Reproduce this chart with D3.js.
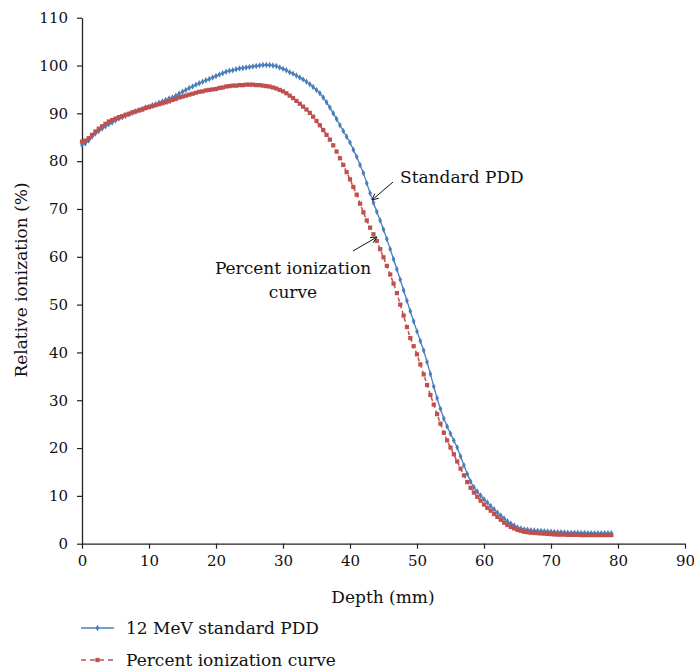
<!DOCTYPE html>
<html>
<head>
<meta charset="utf-8">
<script src="https://cdn.jsdelivr.net/npm/d3@7.9.0/dist/d3.min.js"></script>
<style>
  body { margin: 0; background: #fff; }
  svg { display: block; font-family: "DejaVu Serif", serif; }
</style>
</head>
<body>
<svg id="chart" width="694" height="671"></svg>
<script>
const depth = [
  0, 0.5, 1, 1.5, 2, 2.5, 3, 3.5, 4, 4.5, 5, 5.5, 6, 6.5, 7, 7.5, 8, 8.5, 9, 9.5,
  10, 10.5, 11, 11.5, 12, 12.5, 13, 13.5, 14, 14.5, 15, 15.5, 16, 16.5, 17, 17.5, 18, 18.5, 19, 19.5,
  20, 20.5, 21, 21.5, 22, 22.5, 23, 23.5, 24, 24.5, 25, 25.5, 26, 26.5, 27, 27.5, 28, 28.5, 29, 29.5,
  30, 30.5, 31, 31.5, 32, 32.5, 33, 33.5, 34, 34.5, 35, 35.5, 36, 36.5, 37, 37.5, 38, 38.5, 39, 39.5,
  40, 40.5, 41, 41.5, 42, 42.5, 43, 43.5, 44, 44.5, 45, 45.5, 46, 46.5, 47, 47.5, 48, 48.5, 49, 49.5,
  50, 50.5, 51, 51.5, 52, 52.5, 53, 53.5, 54, 54.5, 55, 55.5, 56, 56.5, 57, 57.5, 58, 58.5, 59, 59.5,
  60, 60.5, 61, 61.5, 62, 62.5, 63, 63.5, 64, 64.5, 65, 65.5, 66, 66.5, 67, 67.5, 68, 68.5, 69, 69.5,
  70, 70.5, 71, 71.5, 72, 72.5, 73, 73.5, 74, 74.5, 75, 75.5, 76, 76.5, 77, 77.5, 78, 78.5, 79
];

// 12 MeV standard PDD (%)
const standardPDD = [
  83.4, 83.7, 84.3, 85.1, 85.8, 86.3, 86.8, 87.3, 87.7, 88.1, 88.5, 88.9, 89.2, 89.5, 89.8, 90.1, 90.4, 90.7, 90.9, 91.2,
  91.4, 91.7, 91.9, 92.2, 92.5, 92.8, 93.1, 93.3, 93.7, 94.1, 94.5, 94.9, 95.3, 95.6, 96.0, 96.3, 96.6, 96.9, 97.2, 97.5,
  97.8, 98.1, 98.4, 98.7, 98.9, 99.0, 99.2, 99.4, 99.5, 99.6, 99.7, 99.8, 99.9, 100.0, 100.1, 100.1, 100.1, 100.0, 99.9, 99.6,
  99.3, 99.0, 98.6, 98.3, 97.9, 97.5, 97.1, 96.6, 96.1, 95.5, 94.9, 94.2, 93.3, 92.3, 91.2, 90.0, 88.8, 87.5, 86.3, 85.1,
  83.9, 82.4, 80.9, 79.2, 77.5, 75.4, 73.3, 71.3, 69.4, 67.6, 65.7, 63.7, 61.6, 59.5, 57.4, 55.2, 53.0, 50.8, 48.6, 46.5,
  44.4, 42.4, 40.4, 38.0, 35.5, 32.9, 30.4, 28.2, 26.2, 24.5, 23.0, 21.6, 20.1, 18.3, 16.4, 14.6, 13.0, 11.8, 10.9, 10.1,
  9.3, 8.6, 7.9, 7.2, 6.5, 5.9, 5.3, 4.7, 4.2, 3.8, 3.4, 3.2, 3.0, 2.9, 2.8, 2.75, 2.7, 2.65, 2.6, 2.55,
  2.5, 2.45, 2.4, 2.4, 2.35, 2.3, 2.3, 2.3, 2.3, 2.25, 2.25, 2.2, 2.2, 2.2, 2.2, 2.2, 2.2, 2.2, 2.2
];

// Percent ionization curve (%)
const percentIonization = [
  84.1, 84.3, 84.8, 85.5, 86.2, 86.8, 87.3, 87.8, 88.3, 88.6, 88.9, 89.2, 89.4, 89.7, 89.9, 90.2, 90.4, 90.6, 90.8, 91.1,
  91.3, 91.5, 91.7, 91.9, 92.1, 92.3, 92.5, 92.8, 93.0, 93.3, 93.5, 93.7, 93.9, 94.1, 94.3, 94.5, 94.6, 94.8, 94.9, 95.0,
  95.1, 95.3, 95.4, 95.6, 95.7, 95.8, 95.8, 95.9, 95.9, 96.0, 96.0, 96.0, 95.9, 95.9, 95.8, 95.7, 95.6, 95.4, 95.2, 94.9,
  94.6, 94.2, 93.7, 93.2, 92.6, 92.0, 91.4, 90.8, 90.1, 89.3, 88.4, 87.5, 86.5, 85.5, 84.5, 83.3, 82.0, 80.6, 79.2, 77.7,
  76.2, 74.6, 73.0, 71.1, 69.3, 67.6, 66.1, 64.7, 63.3, 61.6, 59.9, 58.1, 56.3, 54.4, 52.4, 50.0, 47.7, 45.3, 43.0, 41.3,
  39.6, 37.5, 35.4, 33.2, 31.1, 29.1, 27.1, 25.1, 23.2, 21.6, 20.1, 18.7, 17.2, 15.7, 14.3, 12.9, 11.7, 10.7, 9.8, 9.0,
  8.2, 7.5, 6.9, 6.2, 5.6, 5.0, 4.4, 3.9, 3.5, 3.2, 2.9, 2.7, 2.5, 2.4, 2.3, 2.25, 2.2, 2.15, 2.1, 2.05,
  2.0, 1.95, 1.9, 1.9, 1.9, 1.85, 1.85, 1.85, 1.85, 1.8, 1.8, 1.8, 1.8, 1.8, 1.8, 1.8, 1.8, 1.8, 1.8
];

const xTicks = [0, 10, 20, 30, 40, 50, 60, 70, 80, 90];
const yTicks = [0, 10, 20, 30, 40, 50, 60, 70, 80, 90, 100, 110];

const seriesNames = ["12 MeV standard PDD", "Percent ionization curve"];
const blue = "#4a7ebb";
const red = "#c0504d";

const svg = d3.select("#chart");

const x = d3.scaleLinear().domain([0, 90]).range([82, 685]);
const y = d3.scaleLinear().domain([0, 110]).range([543.7, 17.7]);

const labelSize = "17px";

// axes
const xAxis = svg.append("g")
  .attr("transform", `translate(0,${y(0)})`)
  .call(d3.axisBottom(x).tickValues(xTicks).tickSize(5).tickSizeOuter(0).tickPadding(7));
const yAxis = svg.append("g")
  .attr("transform", `translate(${x(0)},0)`)
  .call(d3.axisLeft(y).tickValues(yTicks).tickSize(5).tickSizeOuter(0).tickPadding(9));

[xAxis, yAxis].forEach((g) => {
  g.selectAll("path.domain").attr("stroke", "#222").attr("stroke-width", 1.3);
  g.selectAll(".tick line").attr("stroke", "#222").attr("stroke-width", 1.2);
  g.selectAll(".tick text")
    .attr("fill", "#111")
    .style("font-family", "DejaVu Serif")
    .style("font-size", "15px");
});

// axis titles
svg.append("text")
  .attr("x", 383)
  .attr("y", 603)
  .attr("text-anchor", "middle")
  .style("font-size", labelSize)
  .attr("fill", "#111")
  .text("Depth (mm)");

svg.append("text")
  .attr("transform", "translate(27,280) rotate(-90)")
  .attr("text-anchor", "middle")
  .style("font-size", labelSize)
  .attr("fill", "#111")
  .text("Relative ionization (%)");

const line = d3.line()
  .x((d) => x(d[0]))
  .y((d) => y(d[1]));

const bluePts = depth.map((d, i) => [d, standardPDD[i]]);
const redPts = depth.map((d, i) => [d, percentIonization[i]]);

const diamond = d3.symbol().type(d3.symbolDiamond).size(12);
const square = d3.symbol().type(d3.symbolSquare).size(18);

// standard PDD
svg.append("path")
  .datum(bluePts)
  .attr("d", line)
  .attr("fill", "none")
  .attr("stroke", blue)
  .attr("stroke-width", 1.3);

svg.append("g")
  .selectAll("path")
  .data(bluePts)
  .join("path")
  .attr("transform", (d) => `translate(${x(d[0])},${y(d[1])})`)
  .attr("d", diamond)
  .attr("fill", blue);

// percent ionization
svg.append("path")
  .datum(redPts)
  .attr("d", line)
  .attr("fill", "none")
  .attr("stroke", red)
  .attr("stroke-width", 1.5)
  .attr("stroke-dasharray", "4,3");

svg.append("g")
  .selectAll("path")
  .data(redPts)
  .join("path")
  .attr("transform", (d) => `translate(${x(d[0])},${y(d[1])})`)
  .attr("d", square)
  .attr("fill", red);

// annotations
function arrow(x1, y1, x2, y2) {
  svg.append("line")
    .attr("x1", x1).attr("y1", y1).attr("x2", x2).attr("y2", y2)
    .attr("stroke", "#111").attr("stroke-width", 1);
  const a = Math.atan2(y2 - y1, x2 - x1);
  const len = 7, spread = 0.45;
  const p1 = [x2 - len * Math.cos(a - spread), y2 - len * Math.sin(a - spread)];
  const p2 = [x2 - len * Math.cos(a + spread), y2 - len * Math.sin(a + spread)];
  svg.append("path")
    .attr("d", `M${p1[0]},${p1[1]}L${x2},${y2}L${p2[0]},${p2[1]}`)
    .attr("fill", "none").attr("stroke", "#111").attr("stroke-width", 1);
}

svg.append("text")
  .attr("x", 400).attr("y", 183)
  .style("font-size", labelSize).attr("fill", "#111")
  .text("Standard PDD");
arrow(393, 182, 372, 200);

svg.append("text")
  .attr("x", 293).attr("y", 274)
  .attr("text-anchor", "middle")
  .style("font-size", labelSize).attr("fill", "#111")
  .text("Percent ionization");
svg.append("text")
  .attr("x", 293).attr("y", 298)
  .attr("text-anchor", "middle")
  .style("font-size", labelSize).attr("fill", "#111")
  .text("curve");
arrow(353, 251, 377, 237);

// legend
const legend = svg.append("g");
const legendRows = [
  { name: seriesNames[0], color: blue, dash: null, sym: diamond, y: 628 },
  { name: seriesNames[1], color: red, dash: "5,4", sym: square, y: 660 }
];
legendRows.forEach((r) => {
  legend.append("line")
    .attr("x1", 81).attr("x2", 114)
    .attr("y1", r.y).attr("y2", r.y)
    .attr("stroke", r.color)
    .attr("stroke-width", 1.4)
    .attr("stroke-dasharray", r.dash);
  legend.append("path")
    .attr("transform", `translate(97.5,${r.y})`)
    .attr("d", r.sym)
    .attr("fill", r.color);
  legend.append("text")
    .attr("x", 126).attr("y", r.y + 6)
    .style("font-size", labelSize).attr("fill", "#111")
    .text(r.name);
});
</script>
</body>
</html>
